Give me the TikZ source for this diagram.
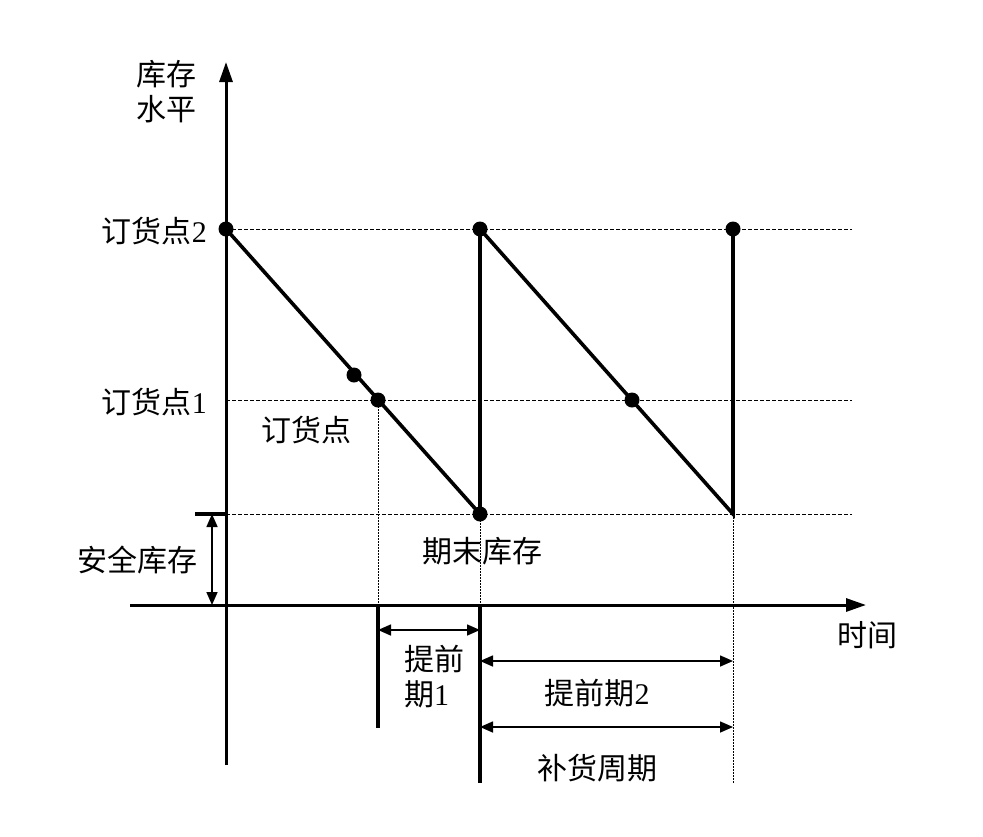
\documentclass[tikz,border=0pt]{standalone}
\usepackage{fontspec}
\setmainfont{Liberation Serif}
\newfontfamily\cjk{Noto Sans CJK SC}
\usetikzlibrary{arrows.meta}
\tikzset{
  axisline/.style={line width=3pt},
  curve/.style={line width=3.6pt, line join=miter},
  guide/.style={line width=1pt, dash pattern=on 4pt off 2pt},
  dotline/.style={line width=1pt, dash pattern=on 1.5pt off 1.5pt},
  dimarrow/.style={line width=1.6pt, {Triangle[length=13pt,width=11pt]}-{Triangle[length=13pt,width=11pt]}},
  pt/.style={circle, fill=black, inner sep=0pt, minimum size=15pt},
  lbl/.style={inner sep=0pt, font=\fontsize{30}{35}\selectfont, align=center},
}
\begin{document}
\begin{tikzpicture}[x=1pt,y=-1pt]
\useasboundingbox[fill=white] (0,0) rectangle (983,836);
% coordinates
\coordinate (O) at (226,605);
\coordinate (Ytop) at (226,62);
\coordinate (Ybot) at (226,765);
\coordinate (Xl) at (130,605);
\coordinate (Xr) at (866,605);
\coordinate (g2) at (852,229);
\coordinate (g1l) at (226,400);
\coordinate (g1r) at (852,400);
\coordinate (gsl) at (226,514);
\coordinate (gsr) at (852,514);
\coordinate (sstick) at (195,514);
\coordinate (e2) at (733,514);
\coordinate (a1) at (378,605);
\coordinate (a1b) at (378,728);
\coordinate (a2) at (480,605);
\coordinate (a2b) at (480,783);
\coordinate (a3b) at (733,783);
% points
\node[pt] (r0) at (226,229) {};
\node[pt] (m1) at (354,375) {};
\node[pt] (p1) at (378,400) {};
\node[pt] (e1) at (480,514) {};
\node[pt] (r1) at (480,229) {};
\node[pt] (p2) at (632,400) {};
\node[pt] (r2) at (733,229) {};
% guide lines
\draw[guide] (r0.center) -- (g2);
\draw[guide] (g1l) -- (g1r);
\draw[guide] (gsl) -- (gsr);
\draw[dotline] (p1.center) -- (a1);
\draw[dotline] (e1.center) -- (a2);
\draw[dotline] (e2) -- (a3b);
% axes
\draw[axisline, -{Triangle[length=20pt,width=13pt]}] (Ybot) -- (Ytop);
\draw[axisline, -{Triangle[length=20pt,width=13pt]}] (Xl) -- (Xr);
% sawtooth
\draw[curve] (r0.center) -- (e1.center) -- (r1.center) -- (e2) -- (r2.center);
% safety stock
\draw[line width=4pt] (sstick) -- (gsl);
\draw[dimarrow] (212,514) -- (212,605);
% lead time markers
\draw[line width=3.6pt] (a1) -- (a1b);
\draw[line width=3.6pt] (a2) -- (a2b);
\coordinate (l1a) at (378,630); \coordinate (l1b) at (480,630);
\coordinate (l2a) at (480,661); \coordinate (l2b) at (733,661);
\coordinate (l3a) at (480,727); \coordinate (l3b) at (733,727);
\draw[dimarrow] (l1a) -- (l1b);
\draw[dimarrow] (l2a) -- (l2b);
\draw[dimarrow] (l3a) -- (l3b);
% labels
\node[lbl] (ty) at (166,92) {\cjk 库存\\\cjk 水平};
\node[lbl, anchor=east] (t2) at (207,231) {{\cjk 订货点}2};
\node[lbl, anchor=east] (t1) at (207,402) {{\cjk 订货点}1};
\node[lbl] (tp) at (306,430) {\cjk 订货点};
\node[lbl] (tss) at (137,560) {\cjk 安全库存};
\node[lbl] (tend) at (482,551) {\cjk 期末库存};
\node[lbl] (tx) at (867,635) {\cjk 时间};
\node[lbl, align=left] (tl1) at (434,677) {\cjk 提前\\{\cjk 期}1};
\node[lbl] (tl2) at (597,693) {{\cjk 提前期}2};
\node[lbl] (tc) at (597,768) {\cjk 补货周期};
\end{tikzpicture}
\end{document}
